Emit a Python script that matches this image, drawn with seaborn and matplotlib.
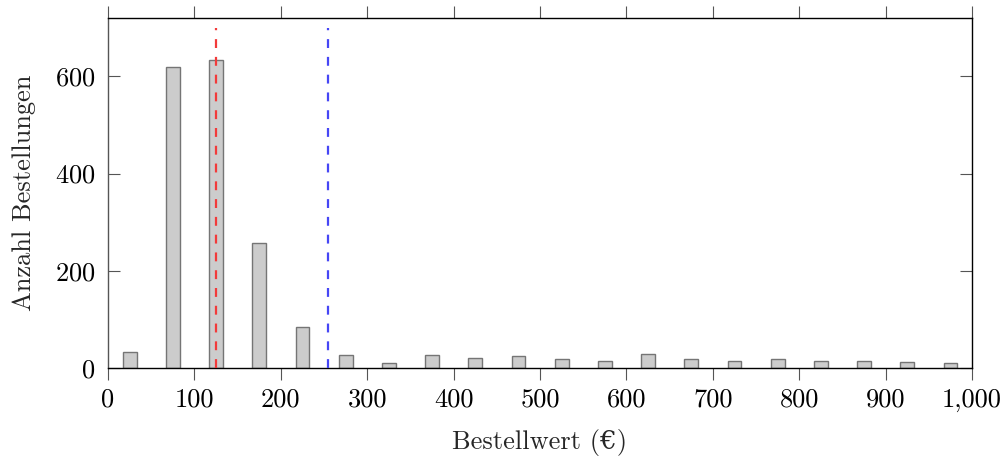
import numpy as np
import pandas as pd
import seaborn as sns
import matplotlib.pyplot as plt
from matplotlib.ticker import FuncFormatter

# Histogramm der Bestellwerte (Klassenmitten in €, Anzahl Bestellungen)
bin_centers = [25, 75, 125, 175, 225, 275, 325, 375, 425, 475,
               525, 575, 625, 675, 725, 775, 825, 875, 925, 975]
counts = [32, 620, 633, 258, 85, 26, 10, 26, 21, 25,
          19, 14, 28, 18, 14, 18, 14, 14, 12, 10]
median_value = 124.6
mean_value = 254.6

sns.set_style('ticks')
plt.rcParams['font.family'] = ['cmr10', 'DejaVu Serif']
plt.rcParams['axes.formatter.use_mathtext'] = True

df = pd.DataFrame({'wert': bin_centers, 'anzahl': counts})

fig = plt.figure(figsize=(10.05, 4.61), dpi=100)
ax = fig.add_axes([0.1075, 0.2017, 0.8597, 0.7593])

sns.barplot(data=df, x='wert', y='anzahl', native_scale=True, width=0.32,
            color='#cccccc', saturation=1, edgecolor='#757575', linewidth=1.0, ax=ax)

ax.vlines(median_value, 0, 700, colors='#f23a3a', linestyles=(0, (4, 4)), linewidth=1.6, zorder=3)
ax.vlines(mean_value, 0, 700, colors='#4646f5', linestyles=(0, (4, 4)), linewidth=1.6, zorder=3)

ax.set_xlim(0, 1000)
ax.set_ylim(0, 720)
ax.set_xticks(np.arange(0, 1001, 100))
ax.set_yticks([0, 200, 400, 600])
ax.xaxis.set_major_formatter(FuncFormatter(lambda v, p: f'{int(v):,}'))

ax.tick_params(axis='x', direction='out', top=True, bottom=True, length=8.5, width=0.8,
               color='#555555', labelsize=19, labelcolor='black', pad=6)
ax.tick_params(axis='y', direction='in', left=True, right=True, length=8.5, width=0.8,
               color='#555555', labelsize=19, labelcolor='black', pad=9)

for side in ['top', 'bottom', 'left', 'right']:
    ax.spines[side].set_visible(True)
    ax.spines[side].set_linewidth(1.0)
    ax.spines[side].set_color('black')
ax.spines['left'].set_color('#555555')

ax.set_xlabel('Bestellwert (€)', fontsize=19, labelpad=12)
ax.set_ylabel('Anzahl Bestellungen', fontsize=19, labelpad=14)

fig.savefig('out.png', dpi=100)
